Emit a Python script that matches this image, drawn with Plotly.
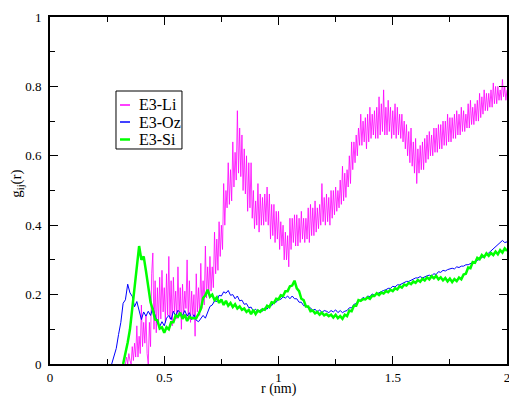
import numpy as np
import plotly.graph_objects as go

# Radial distribution functions g_ij(r)
LI_START, LI_STEP = 0.33, 0.005
li_g = [
    0.00, 0.02, 0.00, 0.03, 0.01, 0.00, 0.05, 0.01, 0.06, 0.02,
    0.11, 0.02, 0.08, 0.03, 0.17, 0.05, 0.12, 0.06, 0.14, 0.03,
    0.00, 0.12, 0.05, 0.26, 0.32, 0.10, 0.24, 0.09, 0.22, 0.12,
    0.25, 0.13, 0.27, 0.15, 0.22, 0.12, 0.26, 0.14, 0.31, 0.13,
    0.24, 0.11, 0.25, 0.15, 0.21, 0.13, 0.28, 0.14, 0.22, 0.10,
    0.23, 0.14, 0.21, 0.16, 0.30, 0.13, 0.24, 0.12, 0.21, 0.14,
    0.20, 0.08, 0.26, 0.15, 0.22, 0.14, 0.29, 0.16, 0.24, 0.17,
    0.34, 0.19, 0.28, 0.20, 0.31, 0.21, 0.28, 0.22, 0.38, 0.26,
    0.36, 0.27, 0.41, 0.31, 0.40, 0.33, 0.52, 0.40, 0.50, 0.45,
    0.58, 0.46, 0.56, 0.47, 0.64, 0.51, 0.61, 0.53, 0.73, 0.55,
    0.68, 0.54, 0.66, 0.50, 0.62, 0.49, 0.60, 0.44, 0.58, 0.45,
    0.58, 0.42, 0.50, 0.39, 0.47, 0.40, 0.52, 0.38, 0.49, 0.40,
    0.48, 0.40, 0.49, 0.41, 0.51, 0.40, 0.49, 0.36, 0.46, 0.37,
    0.46, 0.35, 0.44, 0.36, 0.44, 0.33, 0.41, 0.34, 0.40, 0.30,
    0.38, 0.30, 0.37, 0.28, 0.42, 0.33, 0.42, 0.35, 0.43, 0.34,
    0.43, 0.34, 0.42, 0.35, 0.44, 0.36, 0.42, 0.35, 0.42, 0.36,
    0.45, 0.35, 0.46, 0.37, 0.45, 0.37, 0.47, 0.38, 0.45, 0.39,
    0.46, 0.40, 0.52, 0.41, 0.48, 0.40, 0.49, 0.41, 0.48, 0.40,
    0.50, 0.42, 0.50, 0.43, 0.51, 0.44, 0.50, 0.45, 0.53, 0.46,
    0.57, 0.47, 0.55, 0.48, 0.56, 0.51, 0.60, 0.52, 0.64, 0.56,
    0.64, 0.58, 0.66, 0.60, 0.68, 0.63, 0.72, 0.63, 0.70, 0.64,
    0.71, 0.62, 0.72, 0.64, 0.74, 0.65, 0.72, 0.66, 0.73, 0.65,
    0.74, 0.65, 0.77, 0.66, 0.75, 0.67, 0.79, 0.66, 0.74, 0.66,
    0.76, 0.67, 0.74, 0.65, 0.73, 0.66, 0.75, 0.65, 0.74, 0.66,
    0.72, 0.65, 0.72, 0.64, 0.70, 0.62, 0.69, 0.60, 0.67, 0.58,
    0.68, 0.57, 0.64, 0.55, 0.65, 0.52, 0.62, 0.55, 0.63, 0.56,
    0.64, 0.56, 0.65, 0.58, 0.66, 0.59, 0.67, 0.60, 0.66, 0.60,
    0.68, 0.61, 0.68, 0.61, 0.69, 0.62, 0.69, 0.62, 0.70, 0.63,
    0.70, 0.63, 0.72, 0.64, 0.71, 0.64, 0.71, 0.65, 0.72, 0.65,
    0.73, 0.66, 0.72, 0.66, 0.74, 0.67, 0.73, 0.67, 0.72, 0.68,
    0.75, 0.68, 0.76, 0.69, 0.74, 0.69, 0.75, 0.70, 0.76, 0.70,
    0.78, 0.71, 0.77, 0.72, 0.79, 0.73, 0.78, 0.73, 0.78, 0.74,
    0.79, 0.74, 0.81, 0.75, 0.80, 0.75, 0.80, 0.76, 0.79, 0.76,
    0.82, 0.77, 0.80, 0.76, 0.79,
]

OZ_START, OZ_STEP = 0.27, 0.01
oz_g = [
    0.000, 0.020, 0.045, 0.085, 0.120, 0.175, 0.185, 0.230, 0.205, 0.195,
    0.165, 0.180, 0.150, 0.128, 0.150, 0.138, 0.152, 0.140, 0.162, 0.138,
    0.118, 0.108, 0.122, 0.110, 0.132, 0.140, 0.128, 0.152, 0.138, 0.155,
    0.146, 0.140, 0.154, 0.138, 0.148, 0.128, 0.142, 0.126, 0.122, 0.133,
    0.140, 0.132, 0.152, 0.166, 0.170, 0.182, 0.180, 0.198, 0.196, 0.208,
    0.204, 0.212, 0.198, 0.200, 0.188, 0.196, 0.182, 0.184, 0.172, 0.174,
    0.162, 0.164, 0.152, 0.158, 0.150, 0.156, 0.152, 0.162, 0.158, 0.168,
    0.168, 0.178, 0.178, 0.188, 0.186, 0.194, 0.190, 0.196, 0.188, 0.196,
    0.188, 0.188, 0.178, 0.178, 0.168, 0.168, 0.162, 0.162, 0.154, 0.158,
    0.150, 0.156, 0.148, 0.154, 0.152, 0.148, 0.154, 0.150, 0.156, 0.148,
    0.154, 0.148, 0.152, 0.154, 0.162, 0.162, 0.172, 0.174, 0.182, 0.184,
    0.192, 0.188, 0.196, 0.194, 0.202, 0.198, 0.202, 0.206, 0.208, 0.212,
    0.214, 0.218, 0.218, 0.224, 0.222, 0.228, 0.228, 0.232, 0.234, 0.238,
    0.238, 0.242, 0.244, 0.248, 0.248, 0.252, 0.248, 0.252, 0.254, 0.256,
    0.254, 0.260, 0.258, 0.266, 0.264, 0.270, 0.268, 0.272, 0.274, 0.276,
    0.274, 0.280, 0.278, 0.282, 0.282, 0.286, 0.286, 0.290, 0.292, 0.296,
    0.298, 0.302, 0.306, 0.310, 0.316, 0.320, 0.326, 0.332, 0.338, 0.342,
    0.350, 0.356, 0.350, 0.352,
]

SI_START, SI_STEP = 0.32, 0.01
si_g = [
    0.000, 0.030, 0.062, 0.100, 0.165, 0.225, 0.290, 0.340, 0.300, 0.310,
    0.268, 0.226, 0.178, 0.156, 0.128, 0.126, 0.102, 0.106, 0.090, 0.106,
    0.100, 0.120, 0.120, 0.140, 0.136, 0.148, 0.130, 0.142, 0.124, 0.136,
    0.132, 0.132, 0.132, 0.144, 0.158, 0.190, 0.198, 0.214, 0.194, 0.200,
    0.184, 0.192, 0.176, 0.186, 0.170, 0.182, 0.168, 0.176, 0.164, 0.172,
    0.160, 0.166, 0.156, 0.160, 0.150, 0.156, 0.144, 0.156, 0.144, 0.154,
    0.150, 0.158, 0.156, 0.168, 0.164, 0.178, 0.176, 0.188, 0.186, 0.198,
    0.196, 0.210, 0.210, 0.224, 0.226, 0.240, 0.218, 0.210, 0.188, 0.184,
    0.166, 0.166, 0.152, 0.154, 0.146, 0.150, 0.142, 0.148, 0.140, 0.144,
    0.138, 0.142, 0.134, 0.142, 0.132, 0.138, 0.130, 0.142, 0.138, 0.154,
    0.152, 0.168, 0.168, 0.184, 0.182, 0.187, 0.186, 0.192, 0.188, 0.197,
    0.196, 0.204, 0.199, 0.206, 0.203, 0.210, 0.207, 0.214, 0.210, 0.218,
    0.215, 0.224, 0.220, 0.229, 0.226, 0.234, 0.230, 0.238, 0.234, 0.242,
    0.237, 0.246, 0.241, 0.250, 0.244, 0.253, 0.247, 0.254, 0.244, 0.250,
    0.241, 0.248, 0.238, 0.246, 0.236, 0.245, 0.239, 0.249, 0.244, 0.258,
    0.260, 0.278, 0.276, 0.294, 0.292, 0.306, 0.302, 0.314, 0.308, 0.319,
    0.312, 0.320, 0.314, 0.324, 0.316, 0.328, 0.321, 0.333, 0.326,
]

names = ["E3-Li", "E3-Oz", "E3-Si"]
colors = ["#ff00ff", "#0000ff", "#00ff00"]
widths = [0.8, 1, 2.5]
starts = [LI_START, OZ_START, SI_START]
steps = [LI_STEP, OZ_STEP, SI_STEP]
series = [li_g, oz_g, si_g]

x_ticks = [0, 0.5, 1, 1.5, 2]
x_ticklabels = ["0", "0.5", "1", "1.5", "2"]
y_ticks = [0, 0.2, 0.4, 0.6, 0.8, 1]
y_ticklabels = ["0", "0.2", "0.4", "0.6", "0.8", "1"]

FONT = "Liberation Serif"

fig = go.Figure()
for name, color, width, start, step, g in zip(names, colors, widths, starts, steps, series):
    r = np.round(start + step * np.arange(len(g)), 3)
    fig.add_trace(go.Scatter(
        x=r, y=g, mode="lines", name=name,
        line=dict(color=color, width=width),
        showlegend=False,
    ))

axis_common = dict(
    showgrid=False, zeroline=False, showline=True,
    linecolor="black", linewidth=2, mirror="ticks",
    ticks="inside", ticklen=8, tickwidth=1.2, tickcolor="black",
    tickfont=dict(family=FONT, size=13, color="black"),
    automargin=False, ticklabeloverflow="allow",
)

fig.update_xaxes(
    range=[0, 2], tickmode="array", tickvals=x_ticks, ticktext=x_ticklabels,
    minor=dict(dtick=0.25, tick0=0, ticks="inside", ticklen=5,
               tickwidth=1.2, tickcolor="black"),
    **axis_common,
)
fig.update_yaxes(
    range=[0, 1], tickmode="array", tickvals=y_ticks, ticktext=y_ticklabels,
    minor=dict(dtick=0.1, tick0=0, ticks="inside", ticklen=5,
               tickwidth=1.2, tickcolor="black"),
    ticklabelstandoff=4,
    **axis_common,
)

# Legend box with short line samples
shapes = [dict(type="rect", xref="paper", yref="paper",
               x0=0.1444, x1=0.2888, y0=0.6196, y1=0.7867,
               line=dict(color="black", width=1), fillcolor="white", layer="above")]
annotations = []
legend_rows = [0.7464, 0.6974, 0.6470]
for name, color, width, yrow in zip(names, colors, widths, legend_rows):
    shapes.append(dict(type="line", xref="paper", yref="paper",
                       x0=0.1532, x1=0.1751, y0=yrow, y1=yrow,
                       line=dict(color=color, width=max(width, 1.5)), layer="above"))
    annotations.append(dict(xref="paper", yref="paper", x=0.1904, y=yrow,
                            xanchor="left", yanchor="middle", showarrow=False,
                            text=name, font=dict(family=FONT, size=16, color="black")))

# Axis titles
annotations.append(dict(xref="paper", yref="paper", x=0.5, y=-0.1009,
                        xanchor="center", yanchor="bottom", showarrow=False,
                        text="r (nm)", font=dict(family=FONT, size=14, color="black")))
annotations.append(dict(xref="paper", yref="paper", x=-0.074, y=0.52,
                        xanchor="center", yanchor="middle", showarrow=False,
                        textangle=-90, text="g<sub>ij</sub>(r)",
                        font=dict(family=FONT, size=15, color="black")))

fig.update_layout(
    template="none",
    width=509, height=400,
    margin=dict(l=50, r=2, t=17, b=36),
    paper_bgcolor="white", plot_bgcolor="white",
    showlegend=False,
    shapes=shapes, annotations=annotations,
    font=dict(family=FONT, color="black"),
)

fig.write_html("out.html")
